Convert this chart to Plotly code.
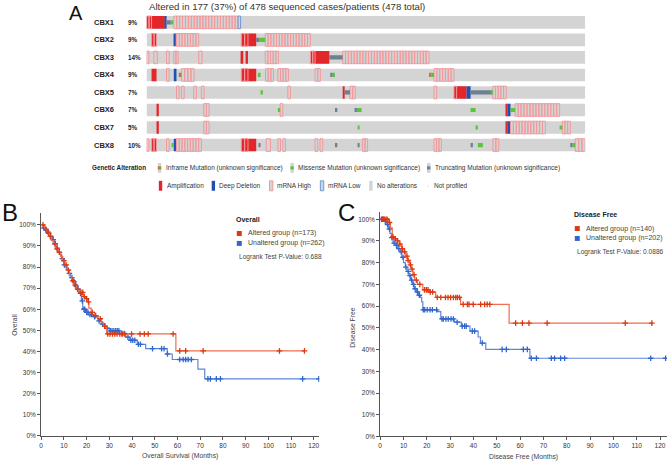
import plotly.graph_objects as go

W, H = 669, 467
FONT = "Arial, Liberation Sans, sans-serif"

# ---------------- panel A: oncoprint ----------------
genes = ["CBX1", "CBX2", "CBX3", "CBX4", "CBX5", "CBX6", "CBX7", "CBX8"]
gene_pct = ["9%", "9%", "14%", "9%", "7%", "7%", "5%", "10%"]
track_len = 440  # track columns

# runs of each alteration: (gene, start column, end column)
amp_runs = [
    ("CBX1", 0, 18.3), ("CBX2", 5, 10), ("CBX2", 95, 110),
    ("CBX3", 95, 97), ("CBX3", 100, 101.7), ("CBX3", 164.3, 183.3),
    ("CBX4", 5, 10), ("CBX4", 95, 110),
    ("CBX5", 196.7, 198.7), ("CBX5", 308.3, 321),
    ("CBX6", 10, 12.3), ("CBX6", 360, 362.3),
    ("CBX7", 10, 12.3), ("CBX7", 360, 362.3),
    ("CBX8", 5, 10), ("CBX8", 95, 110),
]
deldeep_runs = [
    ("CBX1", 18.3, 20), ("CBX2", 27.3, 29.3), ("CBX4", 27.3, 30),
    ("CBX5", 321, 325), ("CBX6", 362.3, 365), ("CBX7", 362.3, 365),
    ("CBX8", 27.3, 30),
]
mrna_high_runs = [
    ("CBX1", 0, 5), ("CBX1", 27.3, 91.7),
    ("CBX2", 5, 10), ("CBX2", 30, 52.3), ("CBX2", 95, 101.7), ("CBX2", 119, 164.3),
    ("CBX3", 0, 2.3), ("CBX3", 7.3, 10.7), ("CBX3", 20, 22.7), ("CBX3", 27.3, 31.7),
    ("CBX3", 52.3, 55.7), ("CBX3", 119, 132.3), ("CBX3", 164.3, 169), ("CBX3", 196.7, 283.3),
    ("CBX4", 20, 22.7), ("CBX4", 35, 47.7), ("CBX4", 95, 101.7), ("CBX4", 119.3, 127.3),
    ("CBX4", 131.7, 142.3), ("CBX4", 169, 174.3), ("CBX4", 288.3, 308.3),
    ("CBX5", 30, 32.7), ("CBX5", 35, 37.7), ("CBX5", 47.3, 50), ("CBX5", 55, 57.7),
    ("CBX5", 141.7, 144.3), ("CBX5", 204, 209.3), ("CBX5", 288.3, 291),
    ("CBX5", 308.3, 311), ("CBX5", 347.3, 360.7),
    ("CBX6", 57.3, 62.7), ("CBX6", 134, 136.7), ("CBX6", 369.7, 414.3),
    ("CBX7", 57.3, 62.7), ("CBX7", 365, 400), ("CBX7", 417, 425),
    ("CBX8", 0, 2.3), ("CBX8", 5, 10), ("CBX8", 20, 22.7), ("CBX8", 30, 55),
    ("CBX8", 95, 101.7), ("CBX8", 120, 124.3), ("CBX8", 131.7, 134.3), ("CBX8", 136.7, 139.3),
    ("CBX8", 169, 171.7), ("CBX8", 174, 176.7), ("CBX8", 216.7, 221.7), ("CBX8", 288.3, 295.7),
    ("CBX8", 347.3, 353.3), ("CBX8", 430, 440),
]
mrna_low_runs = [("CBX1", 91.7, 94.3)]
trunc_runs = [
    ("CBX1", 20, 24.3), ("CBX2", 110, 113.3), ("CBX3", 183.3, 196.7), ("CBX4", 184.3, 186.7),
    ("CBX5", 198.7, 204), ("CBX5", 325, 346.7), ("CBX6", 189, 191.3), ("CBX6", 209, 211),
    ("CBX8", 112.3, 114.3), ("CBX8", 189, 191.3), ("CBX8", 211.7, 213.7),
    ("CBX8", 325, 327.3), ("CBX8", 425, 427.3),
]
missense_runs = [
    ("CBX1", 24.3, 26.7), ("CBX2", 113.3, 119), ("CBX4", 111.7, 114.3), ("CBX4", 186.7, 189),
    ("CBX4", 285.7, 288.3), ("CBX5", 114.3, 116.7), ("CBX5", 345.5, 347.3),
    ("CBX6", 131.7, 134), ("CBX6", 211, 215.7), ("CBX6", 325, 330), ("CBX6", 365, 369.7),
    ("CBX7", 211.7, 213.7), ("CBX7", 330, 332.3), ("CBX7", 415, 417),
    ("CBX8", 25, 27.3), ("CBX8", 332.3, 337.3), ("CBX8", 427.3, 430),
]
inframe_runs = [("CBX4", 32.3, 35), ("CBX4", 283.3, 285.7)]

legend_row1 = ["Inframe Mutation (unknown significance)",
               "Missense Mutation (unknown significance)",
               "Truncating Mutation (unknown significance)"]
legend_row2 = ["Amplification", "Deep Deletion", "mRNA High", "mRNA Low",
               "No alterations", "Not profiled"]

# ---------------- panels B & C: Kaplan-Meier ----------------
b_alt_t = [0, 1.5, 2.5, 3.5, 4.5, 5.5, 6.5, 7.5, 8.5, 9.5, 10.5, 11.5, 12.5, 13.5, 14.5,
           15.5, 17, 18.5, 19.5, 20.5, 21, 22, 23.5, 25, 26.5, 27.5, 28.8, 59.3, 116]
b_alt_s = [100, 98, 96.5, 94.5, 92.5, 91, 89, 87, 85, 83, 81, 78.5, 76, 73.5, 71.5,
           69.5, 68, 66, 65, 63.5, 60.5, 58.5, 57, 55.5, 53.5, 52, 48.3, 40.3, 40.3]
b_alt_cens = [0.8, 2, 3, 4, 6, 7, 8, 10, 11, 12, 14, 15, 16, 17.5, 18.3, 19, 20, 20.8,
              22.5, 24, 26, 28, 29.3, 30.3, 31.4, 32.4, 33.4, 34.6, 35.7, 36.8, 39.8,
              43.5, 45.4, 47.1, 58.1, 61, 63.6, 71.3, 104.9, 115.9]
b_un_t = [0, 1, 2, 3, 4, 5, 6, 7, 8, 9, 10, 11, 12, 13, 14, 15, 16, 17, 17.7, 18.3, 19.5,
          21, 23, 25, 26.5, 28, 30, 34.5, 37.2, 39, 42.3, 46, 55.5, 57.7, 69, 72, 122.2]
b_un_s = [100, 98.5, 97.5, 96, 94.5, 93, 91, 88.5, 86, 84, 81, 79, 77, 75, 73, 71, 69.5,
          67.5, 64, 60, 58.5, 57.5, 56.5, 54.5, 53, 51, 49.8, 48.5, 46.8, 45.3, 43.4,
          41.3, 38.8, 36.2, 31.6, 27, 27]
b_un_cens = [1.2, 2.2, 3.3, 4.2, 5.3, 6.2, 7.1, 9.3, 10.2, 12.4, 13.5, 14.5, 15.4, 16.2,
             17.3, 18.1, 18.8, 19.2, 20, 20.6, 21.5, 22.2, 23.5, 25.5, 27, 29, 30.5, 31.2,
             32, 32.8, 33.5, 34.2, 35.5, 36.5, 38.2, 39.5, 40.3, 41.2, 42.8, 43.7, 49, 53,
             54.1, 55.6, 61, 62.5, 63.6, 64.7, 66.1, 73.4, 74.5, 77.1, 78.9, 115.1, 122.2]

c_alt_t = [0, 3.5, 4.4, 5.2, 6.2, 7.2, 8.2, 9.2, 10.2, 11, 11.8, 12.6, 13.3, 14, 14.8,
           16, 18.3, 21, 23.8, 34.5, 55.3, 116.5]
c_alt_s = [100, 98.5, 96, 92, 91, 90, 88.5, 86.5, 85, 83, 81, 79, 77, 74.5, 72,
           70, 67.5, 66.5, 64, 60.8, 52.2, 52.2]
c_alt_cens = [1, 1.8, 2.5, 3, 4, 5.5, 6.5, 7.5, 8.5, 9.5, 10.5, 11.5, 12, 13, 13.7, 14.5,
              15.5, 17, 19, 19.8, 20.5, 21.5, 22.5, 24.5, 26, 28, 29.1, 30.2, 31.4, 32.4,
              33.1, 34, 35.6, 37.4, 38.1, 39.9, 43.1, 44.8, 45.9, 47, 58.1, 61, 63.8,
              71.6, 105.1, 116.5]
c_un_t = [0, 1.8, 2.8, 3.5, 4.2, 4.8, 5.5, 6.5, 7.5, 8.5, 9.3, 10, 10.8, 11.5, 12.3, 13,
          13.8, 14.6, 15.5, 16.5, 17.2, 17.8, 18.3, 24.5, 26, 31.8, 34.8, 38.5, 42, 43,
          45.3, 64.2, 122.4]
c_un_s = [100, 99, 97.5, 95.5, 93.5, 91.5, 89, 88, 86.5, 85, 82.5, 80, 78, 76, 74, 72,
          70, 68, 66.5, 65, 64, 62, 58.3, 57.5, 54.1, 52.6, 50.8, 48.5, 45.8, 43,
          40.1, 36, 36]
c_un_cens = [0.5, 1, 1.5, 2.2, 3.2, 4, 5, 6, 7, 8, 9, 9.8, 11, 12, 12.8, 13.5, 14.3, 15,
             16, 16.8, 18.5, 19.1, 20.2, 21.4, 22.4, 24.2, 26.5, 27.1, 28.2, 29.2, 30.4,
             31.4, 33, 35.2, 36.2, 36.9, 39.5, 40.5, 43.8, 52.3, 54.1, 61.4, 63.1, 64.8,
             67, 73.4, 74.8, 77.4, 79.1, 116, 122.4]

RED, BLUE = "#dc3912", "#3366cc"
RED_LINE, BLUE_LINE = "#ec6f4f", "#5f86d8"


def fx(px):
    return px / W


def fy(py):
    return 1 - py / H


def surv_at(ts, ss, t):
    v = ss[0]
    for ti, si in zip(ts, ss):
        if ti <= t:
            v = si
    return v


def cells(runs, cw=2.9):
    out = []
    for g, a, b in runs:
        n = max(1, round((b - a) / cw))
        w = (b - a) / n
        for i in range(n):
            out.append((g, a + i * w, a + (i + 1) * w))
    return out


def run_bar(runs, color, width, line_color=None):
    return go.Bar(
        orientation="h", y=[r[0] for r in runs], base=[r[1] for r in runs],
        x=[r[2] - r[1] for r in runs], width=width,
        marker=dict(color=color, line=dict(width=1 if line_color else 0,
                                           color=line_color or color)),
        xaxis="x", yaxis="y", hoverinfo="skip", showlegend=False)


fig = go.Figure()

# gray background tracks
fig.add_trace(run_bar([(g, 0, track_len) for g in genes], "#d4d4d4", 0.72))
fig.add_trace(run_bar(amp_runs, "#e3262a", 0.72))
fig.add_trace(run_bar(deldeep_runs, "#2150b3", 0.72))
fig.add_trace(run_bar(cells(mrna_high_runs), "rgba(0,0,0,0)", 0.72, "#f3999c"))
fig.add_trace(run_bar(cells(mrna_low_runs), "rgba(0,0,0,0)", 0.72, "#6d9bd6"))
fig.add_trace(run_bar(trunc_runs, "#6e7f91", 0.24))
fig.add_trace(run_bar(missense_runs, "#5cc43a", 0.24))
fig.add_trace(run_bar(inframe_runs, "#a8843a", 0.24))

# KM curves
for ts, ss, cens, lc, mc, ax in [
    (b_un_t, b_un_s, b_un_cens, BLUE_LINE, BLUE, 2),
    (b_alt_t, b_alt_s, b_alt_cens, RED_LINE, RED, 2),
    (c_un_t, c_un_s, c_un_cens, BLUE_LINE, BLUE, 3),
    (c_alt_t, c_alt_s, c_alt_cens, RED_LINE, RED, 3),
]:
    fig.add_trace(go.Scatter(x=ts, y=ss, mode="lines", line=dict(color=lc, width=1.2, shape="hv"),
                             xaxis="x%d" % ax, yaxis="y%d" % ax, hoverinfo="skip", showlegend=False))
    fig.add_trace(go.Scatter(x=cens, y=[surv_at(ts, ss, c) for c in cens], mode="markers",
                             marker=dict(symbol="cross-thin", size=4, line=dict(width=1.3, color=mc)),
                             xaxis="x%d" % ax, yaxis="y%d" % ax, hoverinfo="skip", showlegend=False))

ann = []
shapes = []


def text(x, y, s, size, bold=False, color="#333", anchor="left", angle=0):
    ann.append(dict(x=fx(x), y=fy(y), xref="paper", yref="paper", showarrow=False,
                    text="<b>%s</b>" % s if bold else s, xanchor=anchor, yanchor="middle",
                    textangle=angle, font=dict(family=FONT, size=size, color=color)))


def box(x0, y0, x1, y1, fill, line=None):
    shapes.append(dict(type="rect", xref="paper", yref="paper", x0=fx(x0), x1=fx(x1),
                       y0=fy(y1), y1=fy(y0), fillcolor=fill,
                       line=dict(width=1 if line else 0, color=line or fill)))


# panel letters
text(74, 13, "A", 20, color="#111", anchor="center")
text(8, 214, "B", 24, color="#111", anchor="center")
text(346, 214, "C", 24, color="#111", anchor="center")

# oncoprint title, gene labels
text(145, 7, "Altered in 177 (37%) of 478 sequenced cases/patients (478 total)", 9.6, color="#333")
for g, p in zip(genes, gene_pct):
    ann.append(dict(x=fx(90.7), y=g, xref="paper", yref="y", showarrow=False, text="<b>%s</b>" % g,
                    xanchor="left", yanchor="middle", font=dict(family=FONT, size=7.5, color="#222")))
    ann.append(dict(x=fx(124.5), y=g, xref="paper", yref="y", showarrow=False, text="<b>%s</b>" % p,
                    xanchor="left", yanchor="middle", font=dict(family=FONT, size=6.3, color="#222")))

# oncoprint legend
r1, r2 = 169, 187
text(88, r1, "Genetic Alteration", 6.3, bold=True, color="#222")
for gx, lab, col in zip([158, 291, 428], legend_row1, ["#a8843a", "#5cc43a", "#6e7f91"]):
    box(gx - 1.7, r1 - 5, gx + 1.7, r1 + 5, "#d4d4d4")
    box(gx - 1.7, r1 - 1.6, gx + 1.7, r1 + 1.6, col)
    text(gx + 4, r1, lab, 6.5)
glyphs2 = [("#e3262a", None), ("#2150b3", None), ("#d4d4d4", "#f3999c"),
           ("#d4d4d4", "#6d9bd6"), ("#d4d4d4", None), ("#eeeeee", None)]
for gx, lab, (fill, ln) in zip([159, 212, 270, 321, 370, 427], legend_row2, glyphs2):
    if lab == "Not profiled":
        box(gx - 1, r2 - 1, gx + 1, r2 + 1, fill)
    else:
        box(gx - 1.7, r2 - 5, gx + 1.7, r2 + 5, fill, ln)
    text(gx + 4, r2, lab, 6.5)

# KM legends
for (lx, ly), title, ns, pval in [((233, 221), "Overall", (173, 262), "0.688"),
                                  ((572, 216), "Disease Free", (140, 202), "0.0886")]:
    text(lx, ly, title, 7, bold=True, color="#222")
    for k, (col, lab) in enumerate([(RED, "Altered group (n=%d)" % ns[0]),
                                    (BLUE, "Unaltered group (n=%d)" % ns[1])]):
        yy = ly + 14 + k * 10
        box(lx + 2.5, yy - 2.5, lx + 7.5, yy + 2.5, col)
        text(lx + 12, yy, lab, 7, color="#444")
    text(lx + 3, ly + 37.5, "Logrank Test P-Value: " + pval, 6.6, color="#444")

# KM axis titles
text(179, 459, "Overall Survival (Months)", 6.8, color="#444", anchor="center")
text(13, 327, "Overall", 6.8, color="#444", anchor="center", angle=-90)
text(523, 460, "Disease Free (Months)", 6.8, color="#444", anchor="center")
text(352, 329, "Disease Free", 6.8, color="#444", anchor="center", angle=-90)

km_axis = dict(showline=True, linecolor="#555", linewidth=1, ticks="outside", ticklen=3,
               tickcolor="#555", showgrid=False, zeroline=False,
               tickfont=dict(family=FONT, size=6.5, color="#333"))

fig.update_layout(
    width=W, height=H, margin=dict(l=0, r=0, t=0, b=0),
    paper_bgcolor="white", plot_bgcolor="rgba(0,0,0,0)",
    barmode="overlay", showlegend=False,
    xaxis=dict(domain=[fx(145), fx(585)], range=[0, track_len], visible=False, anchor="y"),
    yaxis=dict(domain=[fy(154.8), fy(13.7)], type="category", categoryorder="array",
               categoryarray=genes, range=[7.5, -0.5], visible=False, anchor="x"),
    xaxis2=dict(domain=[fx(39.3), fx(318.4)], range=[0, 122.5], dtick=10, anchor="y2", **km_axis),
    yaxis2=dict(domain=[fy(438.7), fy(214.6)], range=[0, 105.5], dtick=10, ticksuffix="%",
                anchor="x2", **km_axis),
    xaxis3=dict(domain=[fx(379.3), fx(667)], range=[0, 123], dtick=10, anchor="y3", **km_axis),
    yaxis3=dict(domain=[fy(439.3), fy(213)], range=[0, 103.5], dtick=10, ticksuffix="%",
                anchor="x3", **km_axis),
    annotations=ann, shapes=shapes,
)

# the page's default body margin would push the figure 8px off the window
fig.write_html("out.html", config={"displayModeBar": False},
               post_script="document.body.style.margin='0px';")
